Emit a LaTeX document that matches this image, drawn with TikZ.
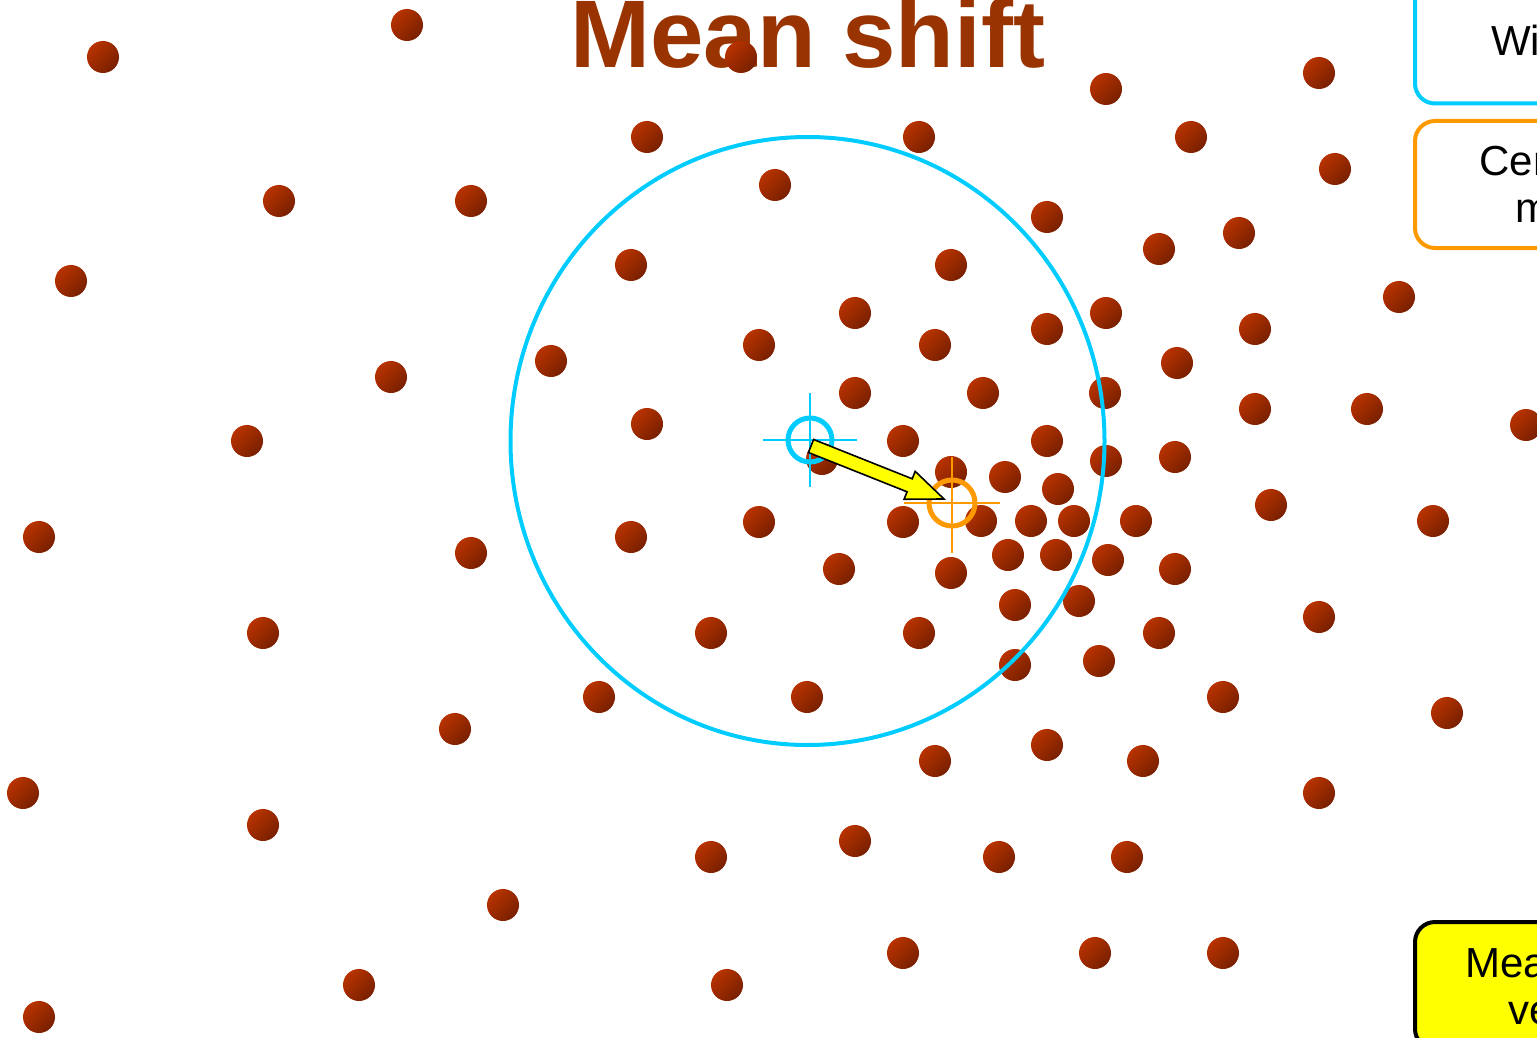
\documentclass[tikz,border=0pt]{standalone}
\usepackage{fontspec}
\setmainfont{Liberation Sans}
\usetikzlibrary{calc}
\definecolor{MSBrown}{HTML}{993300}
\definecolor{MSDotLight}{HTML}{B83200}
\definecolor{MSDotDark}{HTML}{782000}
\definecolor{MSCyan}{HTML}{00CCFF}
\definecolor{MSOrange}{HTML}{FF9900}
\definecolor{MSYellow}{HTML}{FFFF00}

\begin{document}
\begin{tikzpicture}[x=.5pt,y=-.5pt,
 pt/.style={top color=MSDotLight,bottom color=MSDotDark,shading angle=45},
 win/.style={line width=2pt,draw=MSCyan},
 com/.style={line width=2pt,draw=MSOrange},
 cross/.style={line width=1pt},
 lbl/.style={rounded corners=10pt,line width=2pt,minimum width=151pt,minimum height=63.5pt,
  align=center,font=\fontsize{21}{23.5}\selectfont},
 every node/.style={inner sep=0pt}]
\useasboundingbox (0,0) rectangle (1537,1038);
\node[font=\fontsize{48}{50}\selectfont\bfseries,text=MSBrown,anchor=base] (title) at (808,68) {Mean shift};
% data points
\foreach \x/\y in {103/57,407/25,741/57,1106/89,1319/73,
 647/137,919/137,1191/137,1335/169,
 279/201,471/201,775/185,1047/217,1159/249,1239/233,
 71/281,631/265,951/265,1399/297,
 855/313,759/345,935/345,1047/329,1106/313,1255/329,
 551/361,391/377,855/393,983/393,1105/393,1177/363,
 247/441,647/424,903/441,1047/441,1255/409,1367/409,1526/425,
 822/459,951/472,1005/477,1058/489,1106/461,1175/457,1271/505,
 39/537,759/522,903/522,981/521,1031/521,1074/521,1136/521,1433/521,
 471/553,631/537,1008/555,1056/555,1108/560,1175/569,
 839/569,951/573,
 263/633,711/633,919/633,1015/605,1079/601,1159/633,1319/617,
 599/697,807/697,1015/665,1099/661,1223/697,1447/713,
 455/729,23/793,935/761,1047/745,1143/761,1319/793,
 263/825,711/857,855/841,999/857,1127/857,
 503/905,359/985,727/985,903/953,1095/953,1223/953,39/1017}
 \shade[pt] (\x,\y) circle[radius=16];
% window
\draw[win] (807.5,441) ellipse[x radius=297,y radius=304];
\coordinate (winc) at (810,440);
\coordinate (comc) at (952,503);
\draw[MSCyan,cross] ($(winc)+(-47,0)$) -- ($(winc)+(47,0)$);
\draw[MSCyan,cross] ($(winc)+(0,-47)$) -- ($(winc)+(0,47)$);
\draw[win,line width=2.5pt] (winc) circle[radius=22];
\draw[MSOrange,cross] ($(comc)+(-48,0)$) -- ($(comc)+(48,0)$);
\draw[MSOrange,cross] ($(comc)+(0,-46)$) -- ($(comc)+(0,50)$);
\draw[com,line width=2.5pt] (comc) circle[radius=23];
% shift vector
\coordinate (vtail) at (811,446);
\coordinate (vtip) at (944,499);
\coordinate (vbase) at ($(vtip)!18.5pt!(vtail)$);
\filldraw[fill=MSYellow,draw=black,line width=.8pt]
 ($(vtail)!3.5pt!90:(vtip)$) -- ($(vbase)!3.5pt!90:(vtip)$) -- ($(vbase)!7.5pt!90:(vtip)$)
 -- (vtip) -- ($(vbase)!7.5pt!-90:(vtip)$) -- ($(vbase)!3.5pt!-90:(vtip)$)
 -- ($(vtail)!3.5pt!-90:(vtip)$) -- cycle;
% legend
\node[lbl,draw=MSCyan] (window) at (1566,40) {Window};
\node[lbl,draw=MSOrange] (mass) at (1566,184.5) {Center of\\mass};
\node[lbl,draw=black,fill=MSYellow] (vector) at (1566,985.5) {Mean Shift\\vector};
\end{tikzpicture}
\end{document}
